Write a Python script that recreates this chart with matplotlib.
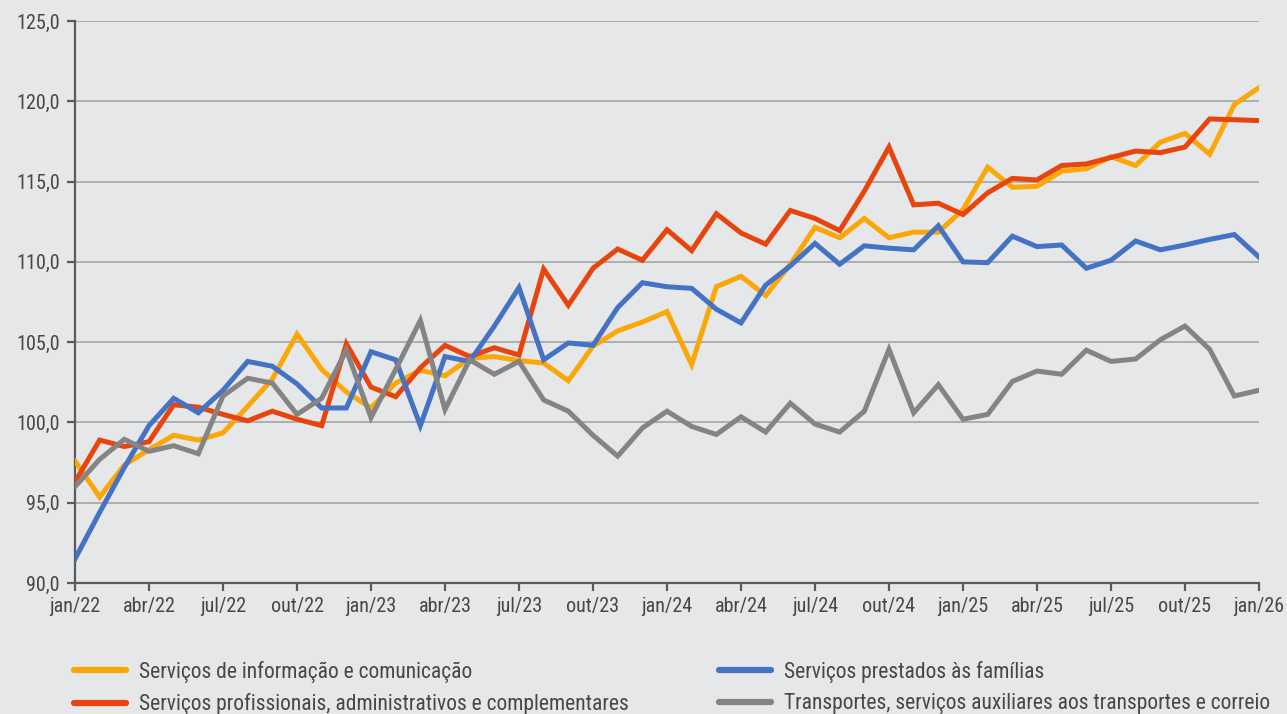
import numpy as np
import matplotlib
matplotlib.use("Agg")
import matplotlib.pyplot as plt
from matplotlib.ticker import FuncFormatter

plt.rcParams['font.family'] = ['Roboto Condensed', 'Liberation Sans Narrow', 'DejaVu Sans']

# monthly index, jan/22 .. jan/26
meses = ["jan", "fev", "mar", "abr", "mai", "jun", "jul", "ago", "set", "out", "nov", "dez"]
periodos = [f"{meses[i % 12]}/{22 + i // 12}" for i in range(49)]

info_com = [97.6, 95.35, 97.35, 98.3, 99.2, 98.9, 99.35, 101.0, 102.7, 105.5,
            103.3, 101.9, 100.9, 102.45, 103.25, 102.9, 104.0, 104.1, 103.85, 103.7,
            102.6, 104.75, 105.7, 106.25, 106.9, 103.6, 108.45, 109.1, 107.9, 109.85,
            112.15, 111.5, 112.7, 111.5, 111.85, 111.85, 113.25, 115.9, 114.65, 114.7,
            115.65, 115.8, 116.55, 116.0, 117.45, 118.0, 116.7, 119.8, 120.85]

profissionais = [96.3, 98.9, 98.5, 98.8, 101.1, 100.95, 100.5, 100.1, 100.7, 100.2,
                 99.8, 104.9, 102.2, 101.6, 103.4, 104.8, 104.1, 104.65, 104.2, 109.55,
                 107.3, 109.6, 110.8, 110.1, 112.0, 110.7, 113.0, 111.8, 111.1, 113.2,
                 112.7, 111.95, 114.4, 117.15, 113.55, 113.65, 112.95, 114.3, 115.2, 115.1,
                 116.0, 116.1, 116.5, 116.9, 116.8, 117.15, 118.9, 118.85, 118.8]

familias = [91.5, 94.4, 97.2, 99.8, 101.5, 100.6, 102.0, 103.8, 103.5, 102.4,
            100.9, 100.9, 104.4, 103.9, 99.8, 104.1, 103.8, 106.0, 108.4, 103.9,
            104.95, 104.8, 107.15, 108.7, 108.45, 108.35, 107.05, 106.2, 108.55, 109.75,
            111.15, 109.85, 111.0, 110.85, 110.75, 112.25, 110.0, 109.95, 111.6, 110.95,
            111.05, 109.6, 110.1, 111.3, 110.75, 111.05, 111.4, 111.7, 110.3]

transportes = [96.0, 97.7, 98.95, 98.2, 98.55, 98.05, 101.65, 102.75, 102.45, 100.5,
               101.5, 104.5, 100.3, 103.3, 106.35, 100.8, 103.9, 103.0, 103.8, 101.4,
               100.7, 99.2, 97.9, 99.65, 100.7, 99.75, 99.25, 100.35, 99.4, 101.2,
               99.9, 99.4, 100.7, 104.55, 100.6, 102.35, 100.2, 100.5, 102.55, 103.2,
               103.0, 104.5, 103.8, 103.95, 105.15, 106.0, 104.55, 101.65, 102.0]

series = [
    ("Serviços de informação e comunicação", info_com, "#FBA708"),
    ("Serviços profissionais, administrativos e complementares", profissionais, "#E8450E"),
    ("Serviços prestados às famílias", familias, "#4472C4"),
    ("Transportes, serviços auxiliares aos transportes e correio", transportes, "#848484"),
]

bg = "#E6E7E9"
txt = "#474747"

fig = plt.figure(figsize=(12.87, 7.14), dpi=100, facecolor=bg)
ax = fig.add_axes([75 / 1287, 1 - 583 / 714, (1259 - 75) / 1287, (583 - 21) / 714])
ax.set_facecolor(bg)

x = np.arange(len(periodos))
lines = []
for nome, vals, cor in series:
    ln, = ax.plot(x, vals, color=cor, lw=3.6, solid_joinstyle="miter", label=nome, zorder=3)
    lines.append(ln)

ax.set_xlim(0, 48)
ax.set_ylim(90, 125)
ax.set_yticks(np.arange(90, 126, 5))
ax.yaxis.set_major_formatter(FuncFormatter(lambda v, p: f"{v:.1f}".replace(".", ",")))
ax.set_xticks(x[::3])
ax.set_xticklabels(periodos[::3])

ax.grid(axis="y", color="#A9A9A9", lw=1.3, zorder=1)
for s in ["top", "right"]:
    ax.spines[s].set_visible(False)
for s in ["left", "bottom"]:
    ax.spines[s].set_color("#5A5A5A")
    ax.spines[s].set_linewidth(1.6)
ax.tick_params(axis="both", colors="#5A5A5A", width=1.6, length=6, labelsize=14.5, labelcolor=txt)
ax.tick_params(axis="x", pad=4)
ax.tick_params(axis="y", pad=5)

leg_kw = dict(frameon=False, fontsize=15.5, labelcolor=txt, handlelength=2.45,
              handletextpad=0.6, labelspacing=0.5, loc="upper left", borderaxespad=0)
leg1 = fig.legend(handles=lines[:2], bbox_to_anchor=(65 / 1287, 1 - 652 / 714), **leg_kw)
leg2 = fig.legend(handles=lines[2:], bbox_to_anchor=(710 / 1287, 1 - 652 / 714), **leg_kw)
for leg in (leg1, leg2):
    for h in leg.legend_handles:
        h.set_linewidth(4.5)
        h.set_solid_capstyle("round")

fig.savefig("out.png", dpi=100, facecolor=bg)
